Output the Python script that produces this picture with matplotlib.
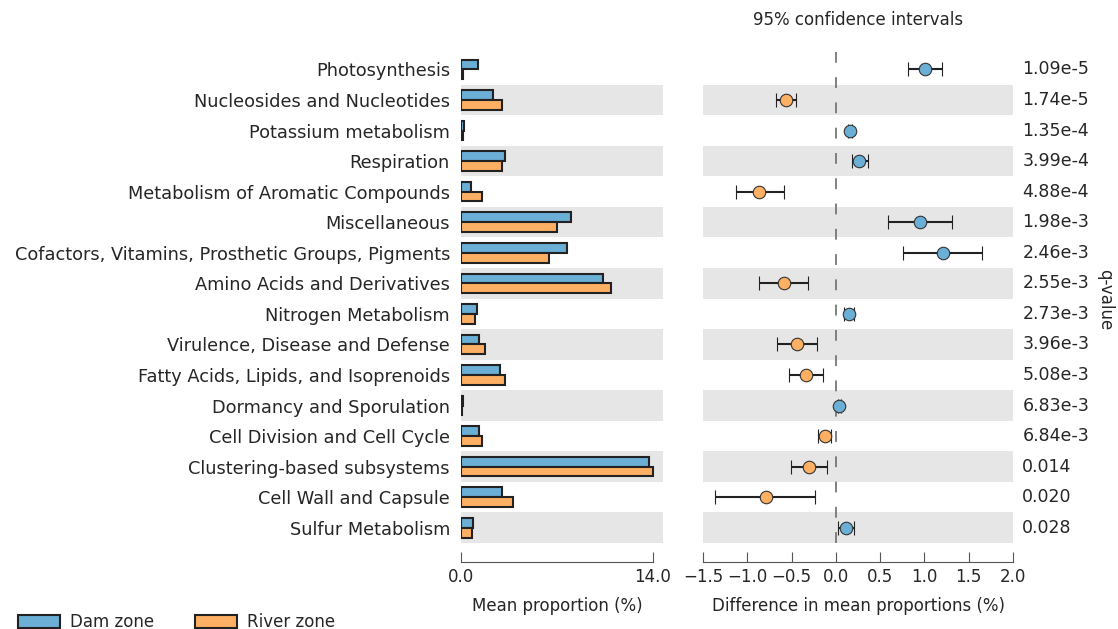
import matplotlib
matplotlib.use('Agg')
import matplotlib.pyplot as plt
from matplotlib.patches import Patch

# functional categories, top to bottom
categories = ['Photosynthesis', 'Nucleosides and Nucleotides', 'Potassium metabolism', 'Respiration',
              'Metabolism of Aromatic Compounds', 'Miscellaneous',
              'Cofactors, Vitamins, Prosthetic Groups, Pigments', 'Amino Acids and Derivatives',
              'Nitrogen Metabolism', 'Virulence, Disease and Defense', 'Fatty Acids, Lipids, and Isoprenoids',
              'Dormancy and Sporulation', 'Cell Division and Cell Cycle', 'Clustering-based subsystems',
              'Cell Wall and Capsule', 'Sulfur Metabolism']

# mean proportions (%)
dam_mean = [1.26, 2.36, 0.25, 3.20, 0.71, 8.00, 7.75, 10.38, 1.19, 1.31, 2.84, 0.12, 1.34, 13.74, 2.97, 0.90]
river_mean = [0.12, 2.97, 0.15, 2.97, 1.55, 7.03, 6.44, 10.94, 1.02, 1.75, 3.20, 0.10, 1.51, 14.03, 3.77, 0.78]

# difference in mean proportions and 95% CI
diff = [1.01, -0.56, 0.16, 0.26, -0.87, 0.95, 1.21, -0.59, 0.15, -0.44, -0.34, 0.04, -0.12, -0.30, -0.79, 0.11]
ci_low = [0.82, -0.68, 0.14, 0.18, -1.13, 0.59, 0.76, -0.87, 0.09, -0.66, -0.53, 0.02, -0.20, -0.51, -1.37, 0.02]
ci_high = [1.20, -0.45, 0.18, 0.36, -0.59, 1.31, 1.65, -0.32, 0.21, -0.21, -0.14, 0.06, -0.05, -0.10, -0.23, 0.20]

q_values = ['1.09e-5', '1.74e-5', '1.35e-4', '3.99e-4', '4.88e-4', '1.98e-3', '2.46e-3', '2.55e-3',
            '2.73e-3', '3.96e-3', '5.08e-3', '6.83e-3', '6.84e-3', '0.014', '0.020', '0.028']

group_names = ['Dam zone', 'River zone']

dam_color = '#6BAED6'
river_color = '#FDB063'
band_color = '#E6E6E6'
text_color = '#262626'
fs = 12

W, H = 1118, 629
fig = plt.figure(figsize=(W / 100, H / 100), dpi=100)

ax_top = 1 - 38 / H
ax_bottom = 1 - 543 / H
ax1 = fig.add_axes([461 / W, ax_bottom, (663 - 461) / W, ax_top - ax_bottom])
ax2 = fig.add_axes([703 / W, ax_bottom, (1013 - 703) / W, ax_top - ax_bottom])

n = len(categories)
ypos = [n - 1 - i for i in range(n)]

for ax in (ax1, ax2):
    for i in range(n):
        if i % 2 == 1:
            ax.axhspan(ypos[i] - 0.5, ypos[i] + 0.5, color=band_color, lw=0, zorder=0)
    ax.set_ylim(-0.5, n + 0.03)
    for side in ('top', 'right', 'left'):
        ax.spines[side].set_visible(False)
    ax.spines['bottom'].set_position(('outward', 14))
    ax.spines['bottom'].set_color('#555555')
    ax.tick_params(axis='x', direction='in', length=7, color='#555555', labelsize=fs, pad=4,
                   labelcolor=text_color)

# left panel: mean proportions
bar_h = 0.32
ax1.barh([y + bar_h / 2 for y in ypos], dam_mean, height=bar_h, color=dam_color,
         edgecolor='#222222', linewidth=1.5, zorder=2)
ax1.barh([y - bar_h / 2 for y in ypos], river_mean, height=bar_h, color=river_color,
         edgecolor='#222222', linewidth=1.5, zorder=2)
ax1.set_xlim(0, 14.73)
ax1.spines['bottom'].set_bounds(0, 14)
ax1.set_xticks([0, 14])
ax1.set_xticklabels(['0.0', '14.0'])
ax1.set_yticks(ypos)
ax1.set_yticklabels(categories, fontsize=12.8, color=text_color)
ax1.tick_params(axis='y', length=0, pad=8)
ax1.set_xlabel('Mean proportion (%)', fontsize=fs, color=text_color)
ax1.xaxis.set_label_coords((557 - 461) / (663 - 461), -0.107)

# right panel: difference with 95% confidence intervals
ax2.axvline(0, color='#777777', lw=1.3, ls=(0, (6, 8)), zorder=1)
for i in range(n):
    c = dam_color if diff[i] > 0 else river_color
    ax2.errorbar(diff[i], ypos[i], xerr=[[diff[i] - ci_low[i]], [ci_high[i] - diff[i]]],
                 fmt='o', color='#222222', ecolor='#222222', elinewidth=1.5, capsize=5, capthick=1.3,
                 markerfacecolor=c, markeredgecolor='#333333', markeredgewidth=0.8, markersize=9, zorder=3)
    ax2.text(1.03, ypos[i], q_values[i], transform=ax2.get_yaxis_transform(), fontsize=12.5,
             va='center', ha='left', color=text_color)
ax2.set_xlim(-1.5, 2.0)
ax2.spines['bottom'].set_bounds(-1.5, 2.0)
ax2.set_xticks([-1.5, -1.0, -0.5, 0.0, 0.5, 1.0, 1.5, 2.0])
ax2.set_yticks([])
ax2.set_xlabel('Difference in mean proportions (%)', fontsize=fs, color=text_color)
ax2.xaxis.set_label_coords(0.5, -0.107)

fig.text((703 + 1013) / 2 / W, 1 - 20 / H, '95% confidence intervals', ha='center', va='center',
         fontsize=fs, color=text_color)
fig.text(1105 / W, 1 - 300 / H, 'q-value', rotation=270, ha='center', va='center', fontsize=fs,
         color=text_color)

handles = [Patch(facecolor=dam_color, edgecolor='#222222', linewidth=1.5, label=group_names[0]),
           Patch(facecolor=river_color, edgecolor='#222222', linewidth=1.5, label=group_names[1])]
fig.legend(handles=handles, loc='center left', bbox_to_anchor=(18 / W, 1 - 622 / H), ncol=2,
           frameon=False, fontsize=fs, handlelength=2.5, handleheight=0.8, handletextpad=0.6,
           columnspacing=2.5, borderpad=0, borderaxespad=0, labelcolor=text_color)

fig.savefig('out.png', dpi=100)
